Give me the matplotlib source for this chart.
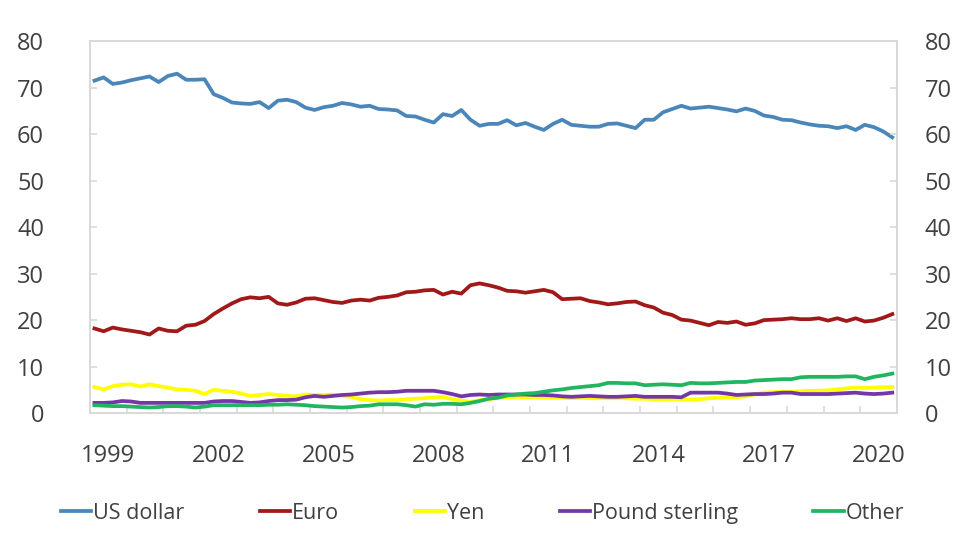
import numpy as np
import matplotlib
matplotlib.use("Agg")
import matplotlib.pyplot as plt

# quarterly shares (%), 1999Q1 - 2020Q4
years = np.arange(1999, 2021)
usd = [71.5, 72.2, 70.8, 71.1, 71.6, 72.0, 72.4, 71.2, 72.5, 73.0, 71.7, 71.7,
       71.8, 68.6, 67.8, 66.8, 66.6, 66.5, 66.9, 65.6, 67.2, 67.4, 66.9, 65.7,
       65.2, 65.8, 66.1, 66.7, 66.4, 65.9, 66.1, 65.4, 65.3, 65.1, 63.9, 63.8,
       63.1, 62.5, 64.3, 63.9, 65.2, 63.1, 61.8, 62.2, 62.2, 63.0, 61.9, 62.4,
       61.6, 60.9, 62.2, 63.1, 62.0, 61.8, 61.6, 61.6, 62.2, 62.3, 61.8, 61.3,
       63.1, 63.1, 64.7, 65.4, 66.1, 65.5, 65.7, 65.9, 65.6, 65.3, 64.9, 65.5,
       65.0, 64.0, 63.7, 63.1, 63.0, 62.5, 62.1, 61.8, 61.7, 61.3, 61.7, 60.9,
       62.0, 61.5, 60.6, 59.3]
eur = [18.2, 17.6, 18.4, 18.0, 17.7, 17.4, 16.9, 18.2, 17.7, 17.6, 18.8, 19.0,
       19.8, 21.3, 22.5, 23.6, 24.5, 24.9, 24.7, 25.0, 23.6, 23.3, 23.8, 24.6,
       24.7, 24.3, 23.9, 23.7, 24.2, 24.4, 24.2, 24.8, 25.0, 25.3, 26.0, 26.1,
       26.4, 26.5, 25.5, 26.1, 25.7, 27.5, 27.9, 27.5, 27.0, 26.3, 26.2, 25.9,
       26.2, 26.5, 26.0, 24.5, 24.6, 24.7, 24.1, 23.8, 23.4, 23.6, 23.9, 24.0,
       23.2, 22.7, 21.6, 21.1, 20.1, 19.9, 19.4, 18.9, 19.6, 19.4, 19.7, 19.0,
       19.3, 20.0, 20.1, 20.2, 20.4, 20.2, 20.2, 20.4, 19.9, 20.4, 19.8, 20.4,
       19.7, 19.9, 20.5, 21.3]
jpy = [5.6, 5.1, 5.8, 6.1, 6.2, 5.7, 6.2, 5.8, 5.5, 5.1, 5.0, 4.8,
       4.1, 5.0, 4.8, 4.6, 4.2, 3.7, 3.9, 4.1, 3.9, 3.7, 3.6, 4.0,
       3.9, 3.9, 4.0, 3.7, 3.5, 3.0, 2.8, 2.7, 2.8, 2.8, 3.0, 3.1,
       3.2, 3.4, 3.5, 3.0, 2.7, 2.4, 2.8, 2.9, 3.4, 3.4, 3.5, 3.4,
       3.4, 3.3, 3.3, 3.3, 3.2, 3.3, 3.2, 3.2, 3.2, 3.2, 3.2, 3.1,
       3.1, 3.0, 3.0, 3.0, 3.0, 2.9, 3.0, 3.2, 3.3, 3.4, 3.4, 3.6,
       4.0, 4.4, 4.5, 4.6, 4.6, 4.7, 4.8, 4.8, 4.9, 5.1, 5.3, 5.5,
       5.4, 5.5, 5.6, 5.6]
gbp = [2.2, 2.2, 2.3, 2.6, 2.5, 2.2, 2.2, 2.2, 2.2, 2.2, 2.2, 2.2,
       2.2, 2.5, 2.6, 2.6, 2.4, 2.2, 2.3, 2.6, 2.8, 2.8, 2.9, 3.4,
       3.7, 3.5, 3.7, 3.9, 4.0, 4.2, 4.4, 4.5, 4.5, 4.6, 4.8, 4.8,
       4.8, 4.8, 4.5, 4.1, 3.6, 3.9, 4.0, 3.9, 4.0, 4.0, 4.0, 4.0,
       3.9, 3.9, 3.8, 3.6, 3.5, 3.6, 3.7, 3.6, 3.5, 3.5, 3.6, 3.7,
       3.5, 3.5, 3.5, 3.5, 3.4, 4.4, 4.4, 4.4, 4.4, 4.2, 3.9, 4.0,
       4.1, 4.1, 4.2, 4.4, 4.4, 4.1, 4.1, 4.1, 4.1, 4.2, 4.3, 4.4,
       4.2, 4.1, 4.2, 4.4]
other = [1.7, 1.6, 1.5, 1.5, 1.4, 1.3, 1.2, 1.3, 1.5, 1.5, 1.4, 1.2,
         1.4, 1.7, 1.7, 1.7, 1.7, 1.7, 1.7, 1.8, 1.8, 1.9, 1.8, 1.7,
         1.5, 1.4, 1.3, 1.2, 1.3, 1.5, 1.6, 1.9, 1.9, 1.9, 1.7, 1.4,
         1.9, 1.8, 2.0, 2.0, 1.9, 2.2, 2.6, 3.1, 3.3, 3.8, 4.0, 4.2,
         4.3, 4.6, 4.9, 5.1, 5.4, 5.6, 5.8, 6.0, 6.5, 6.5, 6.4, 6.4,
         6.0, 6.1, 6.2, 6.1, 6.0, 6.5, 6.4, 6.4, 6.5, 6.6, 6.7, 6.7,
         7.0, 7.1, 7.2, 7.3, 7.3, 7.7, 7.8, 7.8, 7.8, 7.8, 7.9, 7.9,
         7.3, 7.8, 8.1, 8.5]

series = [("US dollar", usd, "#4a86b9"),
          ("Euro", eur, "#a01818"),
          ("Yen", jpy, "#ffff00"),
          ("Pound sterling", gbp, "#7337a8"),
          ("Other", other, "#22b560")]

# points sit in the middle of each quarter
x = years[0] + (np.arange(len(usd)) + 0.5) / 4

plt.rcParams['font.family'] = ['Open Sans', 'DejaVu Sans']
txt = "#404040"
frame = "#d9d9d9"

fig = plt.figure(figsize=(9.77, 5.56), dpi=100)
ax = fig.add_axes([0.092, 0.257, 0.826, 0.669])

for name, vals, col in series:
    ax.plot(x, vals, color=col, lw=2.7, label=name, solid_joinstyle="round")

ax.set_xlim(1999, 2021)
ax.set_ylim(0, 80)
ax.set_yticks(range(0, 81, 10))
ax.set_xticks(years[::3] + 0.5)
ax.set_xticklabels([str(y) for y in years[::3]])
ax.set_xticks(np.arange(1999, 2022), minor=True)

ax.tick_params(axis="x", which="major", length=0, pad=22, labelsize=17, labelcolor=txt)
ax.tick_params(axis="x", which="minor", direction="in", length=5, color=frame, width=1.2)
ax.tick_params(axis="y", direction="in", length=5, color=frame, width=1.2,
               pad=33, labelsize=17, labelcolor=txt)

# right-hand axis mirrors the left one
ax2 = ax.twinx()
ax2.set_ylim(0, 80)
ax2.set_yticks(range(0, 81, 10))
ax2.tick_params(axis="y", direction="in", length=5, color=frame, width=1.2,
                pad=20, labelsize=17, labelcolor=txt)

for a in (ax, ax2):
    for s in a.spines.values():
        s.set_color(frame)
        s.set_linewidth(1.3)

leg = ax.legend(loc="center", bbox_to_anchor=(0.494, 0.077),
                bbox_transform=fig.transFigure, ncol=5, frameon=False,
                fontsize=15.5, handlelength=1.4, handletextpad=0.1,
                columnspacing=3.5, labelcolor=txt)

fig.savefig("out.png", dpi=100)
